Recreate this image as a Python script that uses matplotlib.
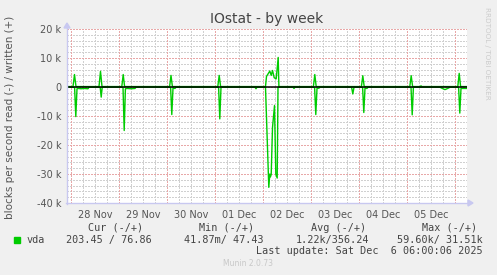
import matplotlib
matplotlib.use("Agg")
import matplotlib.pyplot as plt
from matplotlib.patches import Rectangle
import numpy as np

# ---- data (hours relative to 28 Nov 00:00) ----
written_h = [-2, 1.0, 1.75, 2.5, 14.0, 14.75, 15.5, 25.4, 26.1, 26.8, 49.3, 50.0, 50.7,
             73.4, 74.1, 74.8, 97.25, 97.75, 98.6, 99.4, 100.1, 100.75, 101.6, 102.6, 103.6, 103.95,
             121.2, 121.9, 122.6, 145.2, 145.9, 146.6, 169.4, 170.1, 170.8, 174.5, 175.0, 175.5,
             193.4, 194.1, 194.8, 198]
written_v = [150, 150, 4300, 150, 150, 5400, 150, 150, 4300, 150, 150, 4000, 150,
             150, 4000, 150, 150, 3650, 4600, 5500, 4000, 5700, 3200, 2800, 10200, 150,
             150, 4300, 150, 150, 3900, 150, 150, 3900, 150, 150, 400, 150,
             150, 4700, 150, 150]

read_h = [-2, 1.8, 2.4, 3.0, 3.5, 5, 6.5, 8.5, 9.0,
          14.6, 15.1, 15.6,
          26.0, 26.6, 27.2, 28, 30, 32, 32.5,
          49.8, 50.4, 51.0, 52, 52.5,
          73.8, 74.4, 75.0,
          92, 92.5, 93,
          97.25, 98.9, 99.4, 99.7, 100.1, 100.75, 101.75, 102.4, 103.1, 103.5, 103.9,
          111, 111.5, 112,
          121.8, 122.4, 123.0, 124, 124.5,
          140.3, 140.9, 141.5,
          145.8, 146.4, 147.0, 148, 148.5,
          170.0, 170.6, 171.2,
          184.5, 186, 187, 188, 189.5,
          193.8, 194.4, 195.0, 198]
read_v = [100, 100, 10200, 600, 500, 600, 500, 600, 100,
          100, 3500, 100,
          100, 15000, 600, 500, 600, 500, 100,
          100, 9500, 400, 500, 100,
          100, 11000, 100,
          100, 600, 100,
          100, 34600, 30000, 31000, 30200, 14000, 6400, 30000, 31400, 100, 100,
          100, 500, 100,
          100, 9500, 500, 400, 100,
          100, 2400, 100,
          100, 8800, 400, 500, 100,
          100, 9600, 100,
          100, 600, 900, 600, 100,
          100, 9000, 500, 500]

day_labels = ["28 Nov", "29 Nov", "30 Nov", "01 Dec", "02 Dec", "03 Dec", "04 Dec", "05 Dec"]
y_ticks = [20000, 10000, 0, -10000, -20000, -30000, -40000]
y_labels = ["20 k", "10 k", "0", "-10 k", "-20 k", "-30 k", "-40 k"]

title = "IOstat - by week"
ylabel = "blocks per second read (-) / written (+)"
series_name = "vda"
stat_heads = ["Cur (-/+)", "Min (-/+)", "Avg (-/+)", "Max (-/+)"]
stat_vals = ["203.45 / 76.86", "41.87m/ 47.43", "1.22k/356.24", "59.60k/ 31.51k"]
last_update = "Last update: Sat Dec  6 06:00:06 2025"
footer = "Munin 2.0.73"
side_text = "RRDTOOL / TOBI OETIKER"

W, H = 497, 275
fig = plt.figure(figsize=(W / 100, H / 100), dpi=100, facecolor="#f0f0f0")

def fx(x):
    return x / W

def fy(y):
    return 1 - y / H

L, R, T, B = 67, 467, 29, 203
ax = fig.add_axes([fx(L), fy(B), (R - L) / W, (B - T) / H])
ax.set_facecolor("white")
xmin, xmax = -2, 198
ax.set_xlim(xmin, xmax)
ax.set_ylim(-40000, 20000)
for s in ax.spines.values():
    s.set_visible(False)

# grid
gray = "#d0d0d0"
red = "#e8a8a8"
dots = (0, (1.4, 1.4))
gkw = dict(lw=0.72, ls=dots, antialiased=False)
for h in np.arange(0, xmax, 6):
    if h % 24 == 0:
        continue
    ax.axvline(h, color=gray, zorder=1, **gkw)
for v in range(-40000, 20001, 2000):
    if v % 10000 == 0:
        continue
    ax.axhline(v, color=gray, zorder=1, **gkw)
for h in np.arange(0, xmax, 24):
    ax.axvline(h, color=red, zorder=2, **gkw)
for v in range(-40000, 20001, 10000):
    ax.axhline(v, color=red, zorder=2, **gkw)

# data
ax.plot(written_h, written_v, color="#00cc00", lw=1.0, zorder=4)
ax.plot(read_h, [-v for v in read_v], color="#00cc00", lw=1.0, zorder=4)
ax.axhline(0, color="black", lw=1.1, zorder=5)

ax.set_yticks(y_ticks, y_labels)
ax.set_xticks([12 + 24 * i for i in range(len(day_labels))], day_labels)
ax.tick_params(length=0, labelsize=7, colors="#555555", pad=4)
ax.tick_params(axis="x", pad=5)

# axis lines with arrows (in figure coords)
axc = "#c8c8f0"
fig.add_artist(plt.Line2D([fx(L), fx(L)], [fy(B + 1), fy(T - 2)], color=axc, lw=1))
fig.add_artist(plt.Line2D([fx(L - 1), fx(R + 1)], [fy(B), fy(B)], color=axc, lw=1))
fig.patches.append(plt.Polygon([[fx(L - 3), fy(T - 1)], [fx(L + 3), fy(T - 1)], [fx(L), fy(T - 6)]],
                               closed=True, color=axc, transform=fig.transFigure))
fig.patches.append(plt.Polygon([[fx(R + 1), fy(B - 3)], [fx(R + 1), fy(B + 3)], [fx(R + 6), fy(B)]],
                               closed=True, color=axc, transform=fig.transFigure))

# texts
fig.text(fx(267), fy(19), title, ha="center", va="center", fontsize=10, color="#444444")
fig.text(fx(10), fy(117), ylabel, rotation=90, ha="center", va="center", fontsize=7.5, color="#555555")
fig.text(fx(487), fy(53), side_text, rotation=270, ha="center", va="center", fontsize=5.2, color="#cccccc")

mono = "DejaVu Sans Mono"
head_x = [116, 227, 339, 450]
for x, t in zip(head_x, stat_heads):
    fig.text(fx(x), fy(228), t, ha="center", va="center", fontsize=7.3, family=mono, color="#444444")
val_right = [152, 264, 369, 483]
for x, t in zip(val_right, stat_vals):
    fig.text(fx(x), fy(240), t, ha="right", va="center", fontsize=7.3, family=mono, color="#444444")
fig.patches.append(Rectangle((fx(14), fy(243)), 6 / W, 6 / H, color="#00cc00", transform=fig.transFigure))
fig.text(fx(26.5), fy(240), series_name, ha="left", va="center", fontsize=7.3, family=mono, color="#444444")
fig.text(fx(483), fy(251), last_update, ha="right", va="center", fontsize=7.3, family=mono, color="#444444")
fig.text(fx(248), fy(264), footer, ha="center", va="center", fontsize=5.5, color="#c8c8c8")

fig.savefig("out.png", dpi=100, facecolor=fig.get_facecolor())
